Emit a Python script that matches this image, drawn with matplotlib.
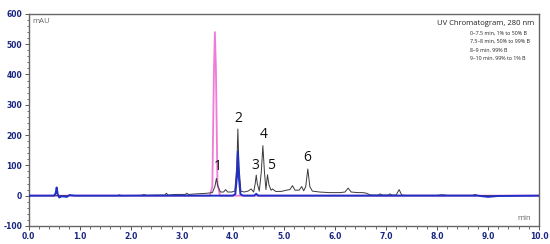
import numpy as np
import matplotlib
matplotlib.use("Agg")
import matplotlib.pyplot as plt
from matplotlib.ticker import MultipleLocator

plt.rcParams["axes.unicode_minus"] = False

# pink trace (single standard peak)
pink_t = [0, 3.55, 3.60, 3.63, 3.65, 3.67, 3.70, 3.75, 10]
pink_v = [0, 0, 30, 400, 540, 420, 40, 0, 0]

# black trace (sample)
black_t = [0, 1.5, 1.75, 1.78, 1.81, 2.2, 2.25, 2.28, 2.31, 2.5, 2.67, 2.70, 2.73, 2.9,
           3.07, 3.10, 3.13, 3.3, 3.5, 3.6, 3.65, 3.68, 3.71, 3.76, 3.82, 3.86, 3.90, 3.98,
           4.04, 4.08, 4.10, 4.12, 4.16, 4.22, 4.30, 4.36, 4.41, 4.44, 4.46, 4.48, 4.52,
           4.56, 4.59, 4.62, 4.65, 4.68, 4.71, 4.75, 4.78, 4.84, 4.95, 5.05, 5.12, 5.17,
           5.22, 5.30, 5.35, 5.39, 5.43, 5.47, 5.51, 5.56, 5.7, 5.9, 6.1, 6.2, 6.26, 6.32,
           6.45, 6.55, 6.62, 6.7, 6.85, 6.89, 6.93, 7.05, 7.08, 7.12, 7.2, 7.26, 7.31, 7.4,
           8.0, 8.1, 8.2, 8.7, 8.75, 8.8, 10]
black_v = [0, 0, 0, 3, 0, 1, 3, 3, 1, 2, 2, 8, 2, 4,
           4, 8, 4, 6, 8, 10, 30, 57, 30, 12, 12, 20, 12, 12,
           15, 100, 220, 100, 15, 12, 15, 22, 12, 40, 68, 40, 15,
           80, 165, 80, 20, 69, 35, 18, 22, 14, 14, 18, 20, 33,
           18, 18, 30, 16, 30, 88, 30, 15, 12, 10, 10, 12, 25, 12,
           10, 10, 8, 2, 2, 6, 2, 2, 6, 2, 2, 20, 2, 1,
           1, 3, 1, 1, 4, 0, 0]

# blue trace
blue_t = [0, 0.5, 0.53, 0.55, 0.57, 0.6, 0.65, 0.75, 0.8, 0.9, 4.0, 4.05, 4.08, 4.10,
          4.12, 4.15, 4.2, 4.42, 4.46, 4.5, 8.8, 9.0, 9.2, 10.0]
blue_v = [0, 0, 8, 27, 5, -6, -2, -4, 2, 0, 0, 5, 60, 146,
          60, 5, 0, 0, 6, 0, 0, -4, -1, 0]

# peak labels
peak_names = ["1", "2", "3", "4", "5", "6"]
peak_x = [3.71, 4.10, 4.44, 4.60, 4.75, 5.46]
peak_y = [96, 254, 100, 201, 100, 125]

gradient_lines = ["0\u20137.5 min, 1% to 50% B",
                  "7.5\u20138 min, 50% to 99% B",
                  "8\u20139 min, 99% B",
                  "9\u201310 min, 99% to 1% B"]

fig = plt.figure(figsize=(5.5, 2.44), dpi=100)
ax = fig.add_axes([0.052, 0.074, 0.928, 0.869])

ax.plot(pink_t, pink_v, color="#f07ad8", lw=1.3, zorder=2)
ax.plot(black_t, black_v, color="#3a3a3a", lw=0.7, zorder=3)
ax.plot(blue_t, blue_v, color="#1f2fc8", lw=1.4, zorder=4)

for name, x, y in zip(peak_names, peak_x, peak_y):
    ax.text(x, y, name, ha="center", va="center", fontsize=10,
            family="Open Sans", color="#111111")

ax.set_xlim(0, 10)
ax.set_ylim(-100, 600)
ax.xaxis.set_major_locator(MultipleLocator(1))
ax.xaxis.set_minor_locator(MultipleLocator(0.2))
ax.yaxis.set_major_locator(MultipleLocator(100))
ax.yaxis.set_minor_locator(MultipleLocator(20))
ax.xaxis.set_major_formatter(matplotlib.ticker.FormatStrFormatter("%.1f"))

ax.tick_params(which="major", length=3, width=0.7, color="#555555",
               labelsize=5.5, labelcolor="#1a2580", pad=1.5)
ax.tick_params(which="minor", length=1.8, width=0.6, color="#555555")
for lab in ax.get_xticklabels() + ax.get_yticklabels():
    lab.set_fontweight("bold")
for sp in ax.spines.values():
    sp.set_color("#666666")
    sp.set_linewidth(1.0)

ax.text(0.08, 575, "mAU", fontsize=5.5, color="#666666", va="center",
        family="Open Sans")
ax.text(9.7, -77, "min", fontsize=5.5, color="#666666", va="center",
        ha="center", family="Open Sans")

ax.text(0.99, 0.955, "UV Chromatogram, 280 nm", transform=ax.transAxes,
        ha="right", va="center", fontsize=5.5, family="Open Sans", color="#222222")
for i, line in enumerate(gradient_lines):
    ax.text(0.864, 0.91 - i * 0.04, line, transform=ax.transAxes,
            ha="left", va="center", fontsize=3.8, family="Open Sans",
            color="#222222")

fig.savefig("out.png", dpi=100)
